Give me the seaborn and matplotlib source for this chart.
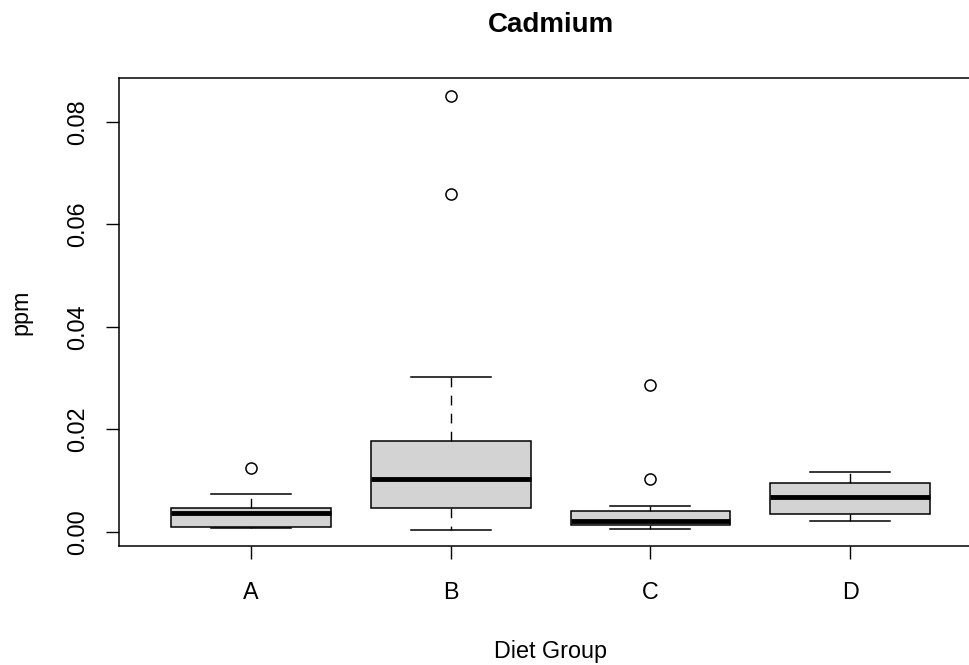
import numpy as np
import pandas as pd
import matplotlib
matplotlib.use('Agg')
import matplotlib.pyplot as plt
import seaborn as sns

# --- values (ppm), per diet group ---
groups = ['A', 'B', 'C', 'D']
ppm_a = [0.0008, 0.0009, 0.0010, 0.0025, 0.0037, 0.0042, 0.0047, 0.0074, 0.0125]
ppm_b = [0.0004, 0.0020, 0.0040, 0.0047, 0.0060, 0.0080, 0.0104, 0.0120, 0.0150,
         0.0178, 0.0303, 0.0659, 0.0850]
ppm_c = [0.0006, 0.0009, 0.0012, 0.0014, 0.0017, 0.0020, 0.0022, 0.0028, 0.0035,
         0.0041, 0.0051, 0.0104, 0.0286]
ppm_d = [0.0022, 0.0028, 0.0035, 0.0050, 0.0067, 0.0080, 0.0096, 0.0105, 0.0116]
y_ticks = [0.00, 0.02, 0.04, 0.06, 0.08]

data = pd.DataFrame({
    'group': np.repeat(groups, [len(ppm_a), len(ppm_b), len(ppm_c), len(ppm_d)]),
    'ppm': ppm_a + ppm_b + ppm_c + ppm_d,
})

plt.rcParams['font.family'] = ['Liberation Sans', 'DejaVu Sans']

fig = plt.figure(figsize=(9.7, 6.65), dpi=100)
# the right edge of the frame runs just past the image, as in the original
ax = fig.add_axes([0.1227, 0.1795, 0.8897, 0.7032])

sns.boxplot(data=data, x='group', y='ppm', order=groups, ax=ax,
            color='#D3D3D3', linecolor='black', linewidth=1.1, width=0.8,
            saturation=1,
            whiskerprops={'linestyle': (0, (7, 6)), 'linewidth': 1.0},
            capprops={'linewidth': 1.1},
            medianprops={'linewidth': 3.5, 'color': 'black'},
            flierprops={'marker': 'o', 'markerfacecolor': 'none',
                        'markeredgecolor': 'black', 'markersize': 8,
                        'markeredgewidth': 1.1})

ax.set_xlim(-0.66, 3.66)
ax.set_ylim(-0.0027, 0.0886)
ax.set_yticks(y_ticks)
ax.set_yticklabels([f'{v:.2f}' for v in y_ticks])

for side in ['left', 'right', 'top', 'bottom']:
    ax.spines[side].set_visible(True)
    ax.spines[side].set_color('black')
    ax.spines[side].set_linewidth(1.1)

ax.tick_params(axis='both', length=9.5, width=1.0, labelsize=16.8, color='black')
ax.tick_params(axis='x', pad=16)
ax.tick_params(axis='y', pad=12, labelrotation=90)
for lbl in ax.get_yticklabels():
    lbl.set_va('center')

ax.set_xlabel('Diet Group', fontsize=16.8, labelpad=26)
ax.set_ylabel('ppm', fontsize=16.8, labelpad=24.5)
ax.set_title('Cadmium', fontsize=20, fontweight='bold', pad=33)

fig.savefig('out.png', dpi=100)
